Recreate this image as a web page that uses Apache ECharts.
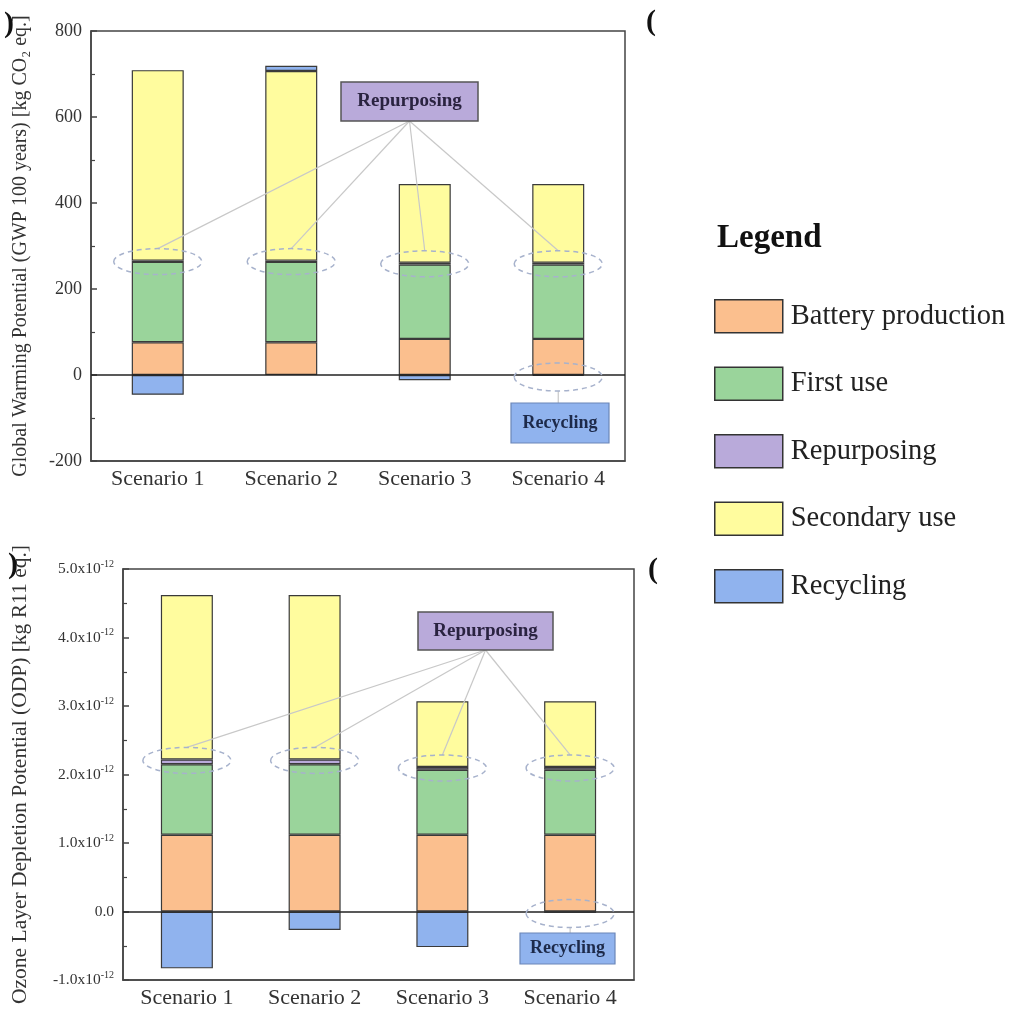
<!DOCTYPE html>
<html>
<head>
<meta charset="utf-8">
<script src="https://cdn.jsdelivr.net/npm/echarts@6/dist/echarts.min.js"></script>
<style>
html,body{margin:0;padding:0;background:#fff;}
#main{width:1019px;height:1010px;}
</style>
</head>
<body>
<div id="main"></div>
<script>
// ---- data ----
const categories = ['Scenario 1', 'Scenario 2', 'Scenario 3', 'Scenario 4'];
const seriesNames = ['Battery production', 'First use', 'Repurposing', 'Secondary use', 'Recycling'];

// Global Warming Potential [kg CO2 eq.]
const gwpBattery     = [76, 76, 84, 84];
const gwpFirstUse    = [187, 187, 173, 173];
const gwpRepurposing = [3, 3, 4, 4];
const gwpSecondary   = [443, 441, 183, 183];
const gwpRecycling   = [-46, 12, -12, -2];

// Ozone Layer Depletion Potential [x10^-12 kg R11 eq.]
const odpBattery     = [1.12, 1.12, 1.12, 1.12];
const odpFirstUse    = [1.03, 1.03, 0.95, 0.95];
const odpRepurposing = [0.07, 0.07, 0.04, 0.04];
const odpSecondary   = [2.40, 2.40, 0.96, 0.96];
const odpRecycling   = [-0.83, -0.27, -0.52, -0.02];

const gwpTickMin = -200, gwpTickMax = 800, gwpTickStep = 200;
const odpTickMin = -1, odpTickMax = 5, odpTickStep = 1;

const colors = ['#FBBF8E', '#9AD49B', '#B9AADA', '#FFFC9E', '#90B3EE'];
const SERIF = '"Liberation Serif", "Times New Roman", serif';

const chart = echarts.init(document.getElementById('main'));

function mkSeries(name, data, idx, gi) {
  const s = {
    name: name, type: 'bar', stack: 'tot' + gi,
    xAxisIndex: gi, yAxisIndex: gi,
    data: data, barWidth: 52,
    itemStyle: { color: colors[idx], borderColor: '#3a3a3a', borderWidth: 1.2 }
  };
  if (idx === 0) {
    s.markLine = {
      silent: true, symbol: 'none', animation: false,
      label: { show: false },
      lineStyle: { color: '#222', width: 1.6, type: 'solid' },
      data: [{ yAxis: 0 }], z: 10
    };
  }
  return s;
}

const gwpData = [gwpBattery, gwpFirstUse, gwpRepurposing, gwpSecondary, gwpRecycling];
const odpData = [odpBattery, odpFirstUse, odpRepurposing, odpSecondary, odpRecycling];
const series = [];
gwpData.forEach((d, i) => series.push(mkSeries(seriesNames[i], d, i, 0)));
odpData.forEach((d, i) => series.push(mkSeries(seriesNames[i], d, i, 1)));

const axisLineStyle = { color: '#444', width: 1.5 };

function xAxisCfg(gi, fs) {
  return {
    type: 'category', gridIndex: gi, data: categories,
    axisLine: { onZero: false, lineStyle: axisLineStyle },
    axisTick: { inside: true, alignWithLabel: true, length: 6, lineStyle: { color: '#444', width: 1.5 } },
    axisLabel: { fontFamily: SERIF, fontSize: fs, color: '#333', margin: 7 }
  };
}

chart.setOption({
  animation: false,
  backgroundColor: '#fff',
  grid: [
    { left: 91, top: 31, width: 534, height: 430, show: true, borderColor: '#444', borderWidth: 1.5 },
    { left: 123, top: 569, width: 511, height: 411, show: true, borderColor: '#444', borderWidth: 1.5 }
  ],
  legend: {
    data: seriesNames, orient: 'vertical', left: 714, top: 299, padding: 0,
    itemWidth: 68, itemHeight: 33, itemGap: 33, icon: 'rect',
    itemStyle: { borderColor: '#333', borderWidth: 1.5 },
    textStyle: { fontFamily: SERIF, fontSize: 28.5, color: '#222', padding: [0, 0, 0, 3] },
    selectedMode: false
  },
  title: {
    text: 'Legend', left: 712, top: 217,
    textStyle: { fontFamily: SERIF, fontSize: 33, fontWeight: 'bold', color: '#111' }
  },
  xAxis: [xAxisCfg(0, 22), xAxisCfg(1, 22)],
  yAxis: [
    {
      type: 'value', gridIndex: 0, min: gwpTickMin, max: gwpTickMax, interval: gwpTickStep,
      name: 'Global Warming Potential (GWP 100 years) [kg CO\u2082 eq.]',
      nameLocation: 'middle', nameRotate: 90, nameGap: 60,
      nameTextStyle: { fontFamily: SERIF, fontSize: 20, color: '#333' },
      axisLine: { show: true, lineStyle: axisLineStyle },
      axisTick: { show: true, inside: true, length: 6, lineStyle: { color: '#444', width: 1.5 } },
      minorTick: { show: true, splitNumber: 2, length: 4, lineStyle: { color: '#444', width: 1.2 } },
      splitLine: { show: false },
      axisLabel: { fontFamily: SERIF, fontSize: 18, color: '#333', margin: 9 }
    },
    {
      type: 'value', gridIndex: 1, min: odpTickMin, max: odpTickMax, interval: odpTickStep,
      name: 'Ozone Layer Depletion Potential (ODP) [kg R11 eq.]',
      nameLocation: 'middle', nameRotate: 90, nameGap: 92,
      nameTextStyle: { fontFamily: SERIF, fontSize: 21.5, color: '#333' },
      axisLine: { show: true, lineStyle: axisLineStyle },
      axisTick: { show: true, inside: true, length: 6, lineStyle: { color: '#444', width: 1.5 } },
      minorTick: { show: true, splitNumber: 2, length: 4, lineStyle: { color: '#444', width: 1.2 } },
      splitLine: { show: false },
      axisLabel: {
        margin: 9,
        formatter: function (v) {
          if (v === 0) return '{m|0.0}';
          return '{m|' + v.toFixed(1) + 'x10}{s|-12}';
        },
        rich: {
          m: { fontFamily: SERIF, fontSize: 15.5, color: '#333' },
          s: { fontFamily: SERIF, fontSize: 10, color: '#333', padding: [0, 0, 10, 0] }
        }
      }
    }
  ],
  series: series
});

// ---- annotations (positioned through the axes) ----
function px(gi, ci, v) {
  return chart.convertToPixel({ xAxisIndex: gi, yAxisIndex: gi }, [ci, v]);
}
function cumTop(arrs, ci, upto) {
  let s = 0;
  for (let k = 0; k <= upto; k++) s += arrs[k][ci];
  return s;
}

const g = [];
const ellStyle = { fill: 'none', stroke: '#A7B2CC', lineWidth: 1.5, lineDash: [5, 4] };
const connStyle = { stroke: '#C8C8C8', lineWidth: 1.2 };

function addPanel(gi, arrs, box, recBox) {
  categories.forEach((c, ci) => {
    const p = px(gi, ci, cumTop(arrs, ci, 2));
    const cy = p[1] + 1;
    g.push({ type: 'ellipse', shape: { cx: p[0], cy: cy, rx: 44, ry: 13 }, style: ellStyle, z: 20 });
    g.push({ type: 'line', shape: { x1: box.x + box.w / 2, y1: box.y + box.h, x2: p[0], y2: cy - 13 }, style: connStyle, z: 19 });
  });
  g.push({
    type: 'rect', shape: { x: box.x, y: box.y, width: box.w, height: box.h },
    style: { fill: '#B9AADA', stroke: '#555', lineWidth: 1.5 }, z: 21
  });
  g.push({
    type: 'text', x: box.x + box.w / 2, y: box.y + box.h / 2,
    style: { text: 'Repurposing', fontFamily: SERIF, fontSize: 19, fontWeight: 'bold', fill: '#2a2340', align: 'center', verticalAlign: 'middle' }, z: 22
  });
  const p0 = px(gi, 3, 0);
  g.push({ type: 'ellipse', shape: { cx: p0[0], cy: p0[1] + 2, rx: 44, ry: 14 }, style: ellStyle, z: 20 });
  g.push({ type: 'line', shape: { x1: p0[0], y1: p0[1] + 16, x2: p0[0], y2: recBox.y }, style: connStyle, z: 19 });
  g.push({
    type: 'rect', shape: { x: recBox.x, y: recBox.y, width: recBox.w, height: recBox.h },
    style: { fill: '#90B3EE', stroke: '#6B86B8', lineWidth: 1.2 }, z: 21
  });
  g.push({
    type: 'text', x: recBox.x + recBox.w / 2, y: recBox.y + recBox.h / 2,
    style: { text: 'Recycling', fontFamily: SERIF, fontSize: 18, fontWeight: 'bold', fill: '#1d2a4a', align: 'center', verticalAlign: 'middle' }, z: 22
  });
}

addPanel(0, gwpData, { x: 341, y: 82, w: 137, h: 39 }, { x: 511, y: 403, w: 98, h: 40 });
addPanel(1, odpData, { x: 418, y: 612, w: 135, h: 38 }, { x: 520, y: 933, w: 95, h: 31 });

// cropped panel-label fragments at the figure edges
[[4, 24, ')'], [646, 22, '('], [8, 565, ')'], [648, 570, '(']].forEach(t => {
  g.push({ type: 'text', x: t[0], y: t[1], style: { text: t[2], fontFamily: SERIF, fontSize: 30, fontWeight: 'bold', fill: '#111', verticalAlign: 'middle' }, z: 22 });
});

chart.setOption({ graphic: { elements: g } });
</script>
</body>
</html>
